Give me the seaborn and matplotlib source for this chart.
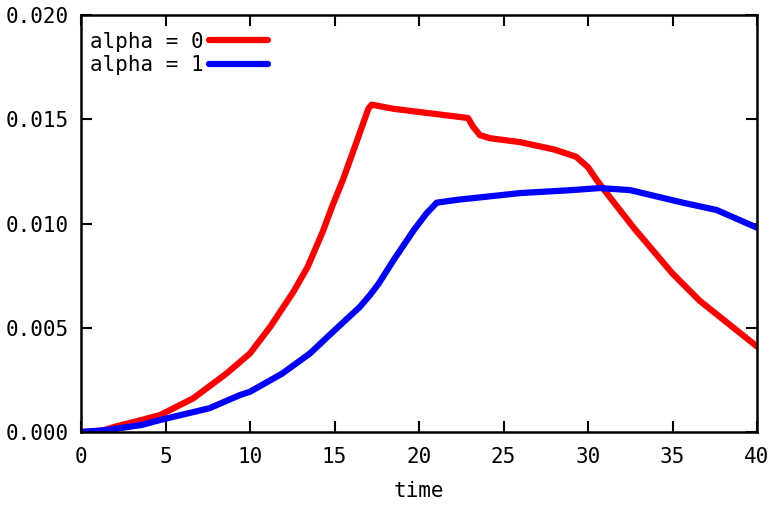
import numpy as np
import pandas as pd
import matplotlib
matplotlib.use('Agg')
import matplotlib.pyplot as plt
import seaborn as sns

# valores
t_a0 = [0, 1.2, 2.0, 3.6, 4.7, 6.65, 8.6, 10, 11.2, 12.55, 13.4, 14.3, 14.9,
        15.5, 16.3, 17.0, 17.2, 18.5, 20, 22.9, 23.2, 23.6, 24.2, 26, 28,
        29.3, 30.0, 30.5, 31.1, 32.7, 35.0, 36.6, 38.3, 40]
val_a0 = [0, 0.00005, 0.00025, 0.00058, 0.00082, 0.00162, 0.0028, 0.00377,
          0.00505, 0.0067, 0.0079, 0.0096, 0.0109, 0.0121, 0.0139, 0.0155,
          0.0157, 0.0155, 0.01535, 0.01506, 0.01464, 0.01424, 0.01409,
          0.0139, 0.01355, 0.0132, 0.0127, 0.0121, 0.01146, 0.0098, 0.0076,
          0.0063, 0.0052, 0.0041]

t_a1 = [0, 1.6, 3.6, 4.7, 7.6, 9.4, 10, 11.9, 13.55, 14.9, 16.5, 17.1, 17.6,
        18.5, 19.7, 20.45, 21.05, 22.4, 23, 26, 29, 30.7, 32.5, 35.6, 37.6,
        40]
val_a1 = [0, 0.0001, 0.00034, 0.00058, 0.00114, 0.00177, 0.00193, 0.0028,
          0.00377, 0.0048, 0.006, 0.00657, 0.0071, 0.00825, 0.00969, 0.01049,
          0.0110, 0.01115, 0.0112, 0.01146, 0.0116, 0.0117, 0.0116, 0.0110,
          0.01065, 0.0098]

labels = ['alpha = 0', 'alpha = 1']
cores = ['#ff0000', '#0000ff']

df = pd.concat([
    pd.DataFrame({'time': t_a0, 'value': val_a0, 'serie': labels[0]}),
    pd.DataFrame({'time': t_a1, 'value': val_a1, 'serie': labels[1]}),
])

sns.set_style('ticks')
plt.rcParams['font.family'] = ['DejaVu Sans Mono']
plt.rcParams['font.size'] = 15
plt.rcParams['text.color'] = 'black'
plt.rcParams['axes.labelcolor'] = 'black'
plt.rcParams['xtick.color'] = 'black'
plt.rcParams['ytick.color'] = 'black'

fig = plt.figure(figsize=(7.83, 5.11), dpi=100)
ax = fig.add_axes([81/783, 79/511, 676/783, 417/511])

sns.lineplot(data=df, x='time', y='value', hue='serie', palette=cores,
             linewidth=4.5, ax=ax, estimator=None, sort=False)

ax.set_xlim(0, 40)
ax.set_ylim(0, 0.02)
ax.set_xticks(np.arange(0, 41, 5))
ax.set_yticks(np.arange(0, 0.0201, 0.005))
ax.set_yticklabels(['%.3f' % v for v in np.arange(0, 0.0201, 0.005)])
ax.tick_params(direction='in', length=8, width=1.5, top=True, right=True,
               labelsize=15)
ax.tick_params(axis='x', pad=11)
ax.tick_params(axis='y', pad=9)
for s in ax.spines.values():
    s.set_linewidth(1.8)
    s.set_color('black')
    s.set_visible(True)
ax.set_xlabel('time', fontsize=15, labelpad=10)
ax.set_ylabel('')

ax.legend(loc='upper left', bbox_to_anchor=(-0.012, 1.0), markerfirst=False,
          frameon=False, handlelength=2.8, handletextpad=0.3, fontsize=15,
          borderaxespad=0.4, labelspacing=0.15, title=None)

fig.savefig('out.png', dpi=100)
plt.close()
